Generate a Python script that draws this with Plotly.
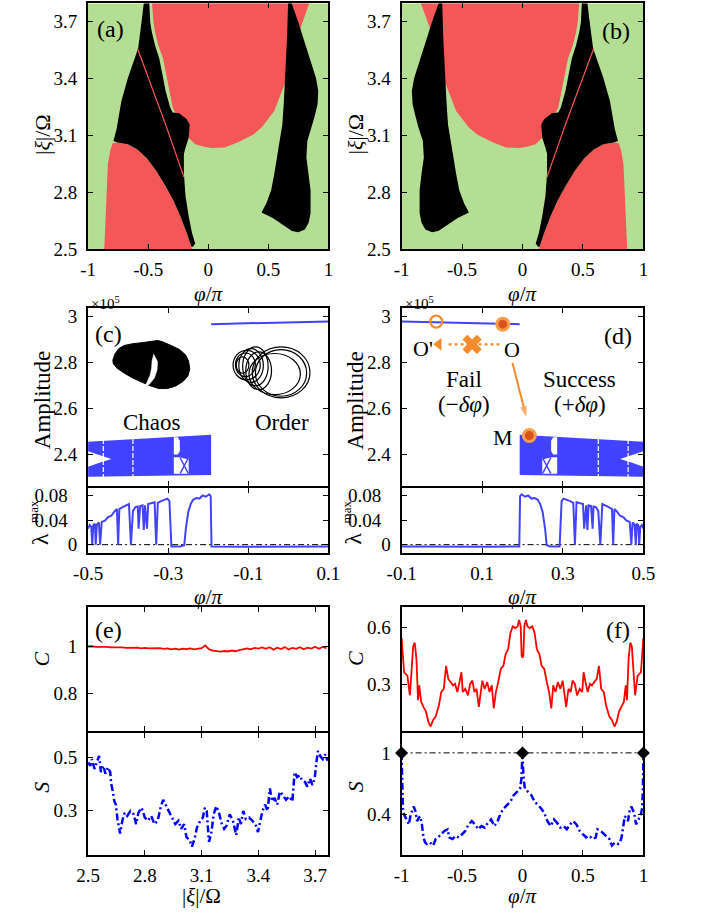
import plotly.graph_objects as go

FONT = "Liberation Serif"
GREEN = "#b4de94"
RED = "#f35757"
BLUE = "#4343ff"
ORANGE = "#f68b2d"
W, H = 704, 918

# ---------------- (a)/(b): phase map over (phi/pi, |xi|/Omega) ----------------
# outlines for panel (a); panel (b) is its mirror image phi -> -phi
red_top_phi = [-0.469, -0.456, -0.443, -0.416, -0.376, -0.349, -0.323, -0.296, -0.269, -0.235,
               -0.203, -0.163, -0.109, -0.035, 0.024, 0.136, 0.243, 0.376, 0.445, 0.549,
               0.643, 0.696, 0.776, 0.843]
red_top_xi = [3.80, 3.695, 3.643, 3.574, 3.505, 3.419, 3.333, 3.247, 3.212, 3.169,
              3.134, 3.088, 3.053, 3.040, 3.034, 3.036, 3.062, 3.105, 3.143, 3.229,
              3.384, 3.540, 3.678, 3.80]
red_low_phi = [-0.795, -0.755, -0.669, -0.589, -0.509, -0.429, -0.355, -0.288, -0.235, -0.181,
               -0.141, -0.125, -0.867, -0.856, -0.848, -0.835, -0.816]
red_low_xi = [3.060, 3.062, 3.053, 3.026, 2.979, 2.910, 2.833, 2.755, 2.678, 2.591,
              2.514, 2.48, 2.48, 2.640, 2.812, 2.950, 3.019]
chaos_left_phi = [-0.536, -0.491, -0.483, -0.469, -0.443, -0.408, -0.381, -0.355, -0.317, -0.296,
                  -0.243, -0.216, -0.181, -0.155, -0.163, -0.189, -0.203, -0.203, -0.189, -0.163,
                  -0.136, -0.109, -0.128, -0.141, -0.181, -0.235, -0.288, -0.355, -0.429, -0.509,
                  -0.589, -0.669, -0.755, -0.789, -0.763, -0.723, -0.669, -0.584, -0.576, -0.563,
                  -0.549]
chaos_left_xi = [3.80, 3.80, 3.695, 3.643, 3.574, 3.505, 3.419, 3.333, 3.247, 3.221,
                 3.217, 3.203, 3.186, 3.157, 3.088, 3.036, 3.002, 2.898, 2.778, 2.674,
                 2.588, 2.531, 2.514, 2.514, 2.591, 2.678, 2.755, 2.833, 2.910, 2.979,
                 3.026, 3.053, 3.062, 3.071, 3.134, 3.281, 3.402, 3.557, 3.609, 3.660,
                 3.729]
chaos_right_phi = [0.664, 0.691, 0.749, 0.803, 0.856, 0.896, 0.915, 0.909, 0.883, 0.861,
                   0.824, 0.816, 0.835, 0.851, 0.851, 0.835, 0.803, 0.749, 0.696, 0.616,
                   0.536, 0.443, 0.483, 0.523, 0.549, 0.589, 0.616, 0.629, 0.643, 0.656]
chaos_right_xi = [3.80, 3.80, 3.695, 3.591, 3.488, 3.402, 3.333, 3.264, 3.195, 3.143,
                  3.071, 2.984, 2.898, 2.812, 2.691, 2.640, 2.605, 2.591, 2.597, 2.631,
                  2.666, 2.695, 2.743, 2.812, 2.898, 3.053, 3.157, 3.281, 3.453, 3.626]
red_thread_phi = [-0.589, -0.355, -0.203]
red_thread_xi = [3.557, 3.157, 2.881]

phi_ticks = [-1, -0.5, 0, 0.5, 1]
phi_ticklabels = ["-1", "-0.5", "0", "0.5", "1"]
xi_ticks = [2.5, 2.8, 3.1, 3.4, 3.7]
xi_ticklabels = ["2.5", "2.8", "3.1", "3.4", "3.7"]

# ---------------- (c)/(d): bifurcation diagram (amplitude in 1e5) and lambda_max ----------------
# values for panel (c); panel (d) is the mirror image phi -> -phi
band_phi = [-0.5, -0.193]
band_top = [2.456, 2.486]
band_bot = [2.303, 2.311]
fixed_phi = [-0.193, 0.1]
fixed_amp = [2.968, 2.980]
notch_phi = [-0.5, -0.47, -0.442, -0.47, -0.5]
notch_amp = [2.414, 2.397, 2.381, 2.365, 2.347]
gap_phi = [-0.462, -0.388]
window_hi_phi = [-0.286, -0.276, -0.271, -0.271, -0.276, -0.286]
window_hi_amp = [2.475, 2.475, 2.46, 2.415, 2.40, 2.40]
window_lo_phi = [-0.286, -0.249, -0.249, -0.286]
window_lo_amp = [2.388, 2.388, 2.316, 2.316]
window_mid_phi = [-0.280, -0.249, -0.249]
window_mid_amp = [2.392, 2.402, 2.378]
window_cross_phi = [[-0.270, -0.250], [-0.270, -0.250]]
window_cross_amp = [[2.385, 2.318], [2.318, 2.385]]

lam_phi = [-0.5, -0.496, -0.492, -0.4896, -0.487, -0.483, -0.481, -0.478, -0.473, -0.470,
           -0.466, -0.458, -0.450, -0.442, -0.434, -0.428, -0.425, -0.422, -0.414, -0.406,
           -0.398, -0.393, -0.388, -0.382, -0.376, -0.374, -0.370, -0.364, -0.361, -0.358,
           -0.353, -0.350, -0.342, -0.334, -0.330, -0.326, -0.318, -0.310, -0.302, -0.297,
           -0.292, -0.282, -0.270, -0.260, -0.256, -0.250, -0.244, -0.238, -0.230, -0.222,
           -0.214, -0.206, -0.198, -0.194, -0.192, -0.122, -0.042, 0.038, 0.1]
lam_val = [0.026, 0.032, 0.029, 0.0, 0.032, 0.034, 0.0, 0.033, 0.036, 0.0,
           0.037, 0.039, 0.045, 0.047, 0.054, 0.058, 0.0, 0.058, 0.061, 0.063,
           0.066, 0.0, 0.055, 0.061, 0.062, 0.026, 0.063, 0.064, 0.024, 0.064,
           0.026, 0.066, 0.067, 0.069, 0.0, 0.068, 0.071, 0.073, 0.075, 0.071,
           -0.003, -0.003, -0.003, -0.001, 0.026, 0.053, 0.066, 0.073, 0.076, 0.075,
           0.080, 0.078, 0.082, 0.079, -0.003, -0.0035, -0.003, -0.0035, -0.003]

amp_ticks = [2.4, 2.6, 2.8, 3.0]
amp_ticklabels = ["2.4", "2.6", "2.8", "3"]
lam_ticks = [0, 0.04, 0.08]
lam_ticklabels = ["0", "0.04\u2002", "0.08\u2002"]
c_phi_ticks = [-0.5, -0.3, -0.1, 0.1]
c_phi_ticklabels = ["-0.5", "-0.3", "-0.1", "0.1"]
d_phi_ticks = [-0.1, 0.1, 0.3, 0.5]
d_phi_ticklabels = ["-0.1", "0.1", "0.3", "0.5"]

# control points in panel (d): start O, failed target O', reached state M
pt_O = (0.151, 2.968)
pt_Oprime = (-0.014, 2.979)
pt_M = (0.217, 2.483)

# ---------------- (e): C and S versus |xi|/Omega ----------------
e_C_xi = [2.50, 2.52, 2.54, 2.56, 2.58, 2.60, 2.62, 2.64, 2.66, 2.68, 2.70, 2.72, 2.74, 2.76, 2.78, 2.80,
          2.82, 2.84, 2.86, 2.88, 2.90, 2.92, 2.94, 2.96, 2.98, 3.00, 3.02, 3.04, 3.06, 3.08, 3.10, 3.12,
          3.14, 3.16, 3.18, 3.20, 3.22, 3.24, 3.26, 3.28, 3.30, 3.32, 3.34, 3.36, 3.38, 3.40, 3.42, 3.44,
          3.46, 3.48, 3.50, 3.52, 3.54, 3.56, 3.58, 3.60, 3.62, 3.64, 3.66, 3.68, 3.70, 3.72, 3.74, 3.76]
e_C = [0.998, 0.999, 0.996, 0.997, 0.995, 0.996, 0.994, 0.995, 0.993, 0.994, 0.992, 0.993, 0.991, 0.993, 0.990, 0.992,
       0.990, 0.991, 0.989, 0.991, 0.988, 0.990, 0.986, 0.989, 0.985, 0.989, 0.987, 0.990, 0.986, 0.989, 0.991, 1.002,
       0.986, 0.981, 0.979, 0.976, 0.979, 0.977, 0.981, 0.978, 0.983, 0.987, 0.990, 0.986, 0.992, 0.989, 0.994, 0.988,
       0.995, 0.984, 0.993, 0.987, 0.996, 0.985, 0.992, 0.988, 0.995, 0.986, 0.993, 0.989, 0.997, 0.988, 0.996, 0.991]
e_S_xi = [2.5, 2.512, 2.520, 2.534, 2.546, 2.558, 2.568, 2.580, 2.592, 2.605,
          2.617, 2.622, 2.631, 2.639, 2.647, 2.656, 2.664, 2.669, 2.681, 2.693,
          2.707, 2.724, 2.741, 2.754, 2.766, 2.783, 2.800, 2.817, 2.834, 2.851,
          2.868, 2.885, 2.897, 2.910, 2.927, 2.944, 2.961, 2.978, 2.992, 3.008,
          3.020, 3.037, 3.049, 3.063, 3.076, 3.093, 3.107, 3.117, 3.127, 3.139,
          3.151, 3.164, 3.178, 3.192, 3.207, 3.219, 3.232, 3.249, 3.266, 3.283,
          3.297, 3.308, 3.320, 3.334, 3.351, 3.368, 3.385, 3.398, 3.410, 3.422,
          3.436, 3.449, 3.461, 3.473, 3.486, 3.500, 3.514, 3.529, 3.546, 3.563,
          3.580, 3.592, 3.605, 3.619, 3.631, 3.647, 3.659, 3.673, 3.686, 3.698,
          3.707, 3.715, 3.727, 3.741, 3.754, 3.766]
e_S = [0.482, 0.469, 0.494, 0.457, 0.482, 0.506, 0.445, 0.469, 0.439, 0.463,
       0.445, 0.402, 0.371, 0.334, 0.322, 0.261, 0.236, 0.212, 0.261, 0.291,
       0.279, 0.298, 0.285, 0.248, 0.291, 0.310, 0.273, 0.261, 0.279, 0.248,
       0.261, 0.316, 0.340, 0.322, 0.298, 0.273, 0.248, 0.261, 0.230, 0.248,
       0.199, 0.187, 0.163, 0.193, 0.236, 0.261, 0.273, 0.310, 0.298, 0.181,
       0.212, 0.285, 0.316, 0.291, 0.248, 0.230, 0.242, 0.285, 0.261, 0.206,
       0.273, 0.248, 0.298, 0.267, 0.273, 0.261, 0.248, 0.218, 0.261, 0.298,
       0.322, 0.298, 0.383, 0.334, 0.347, 0.322, 0.371, 0.359, 0.340, 0.353,
       0.334, 0.445, 0.426, 0.433, 0.414, 0.408, 0.390, 0.420, 0.396, 0.420,
       0.482, 0.525, 0.506, 0.494, 0.512, 0.488]

# ---------------- (f): C and S versus phi/pi (symmetric about phi = 0) ----------------
f_C_phi_half = [-1.0, -0.979, -0.952, -0.931, -0.904, -0.891, -0.877, -0.864, -0.854, -0.838,
                -0.819, -0.798, -0.779, -0.760, -0.739, -0.718, -0.691, -0.672, -0.651, -0.632,
                -0.614, -0.593, -0.574, -0.558, -0.539, -0.521, -0.505, -0.494, -0.473, -0.451,
                -0.433, -0.414, -0.398, -0.380, -0.361, -0.345, -0.332, -0.313, -0.292, -0.273,
                -0.254, -0.238, -0.220, -0.201, -0.180, -0.158, -0.140, -0.119, -0.100, -0.081,
                -0.060, -0.041, -0.028, -0.015, -0.007, 0.0]
f_C_half = [0.547, 0.366, 0.348, 0.245, 0.503, 0.521, 0.434, 0.219, 0.297, 0.210,
            0.184, 0.159, 0.107, 0.081, 0.116, 0.133, 0.193, 0.262, 0.279, 0.400,
            0.331, 0.314, 0.297, 0.305, 0.262, 0.314, 0.366, 0.262, 0.279, 0.245,
            0.305, 0.322, 0.262, 0.279, 0.184, 0.262, 0.322, 0.279, 0.314, 0.262,
            0.297, 0.176, 0.262, 0.314, 0.383, 0.400, 0.460, 0.486, 0.572, 0.607,
            0.598, 0.607, 0.641, 0.607, 0.452, 0.443]
f_S_phi_half = [-1.0, -0.995, -0.989, -0.979, -0.965, -0.952, -0.939, -0.925, -0.912, -0.899,
                -0.885, -0.872, -0.859, -0.846, -0.832, -0.819, -0.806, -0.792, -0.766, -0.739,
                -0.718, -0.699, -0.672, -0.646, -0.619, -0.606, -0.579, -0.553, -0.526, -0.499,
                -0.473, -0.446, -0.419, -0.393, -0.366, -0.340, -0.313, -0.286, -0.260, -0.233,
                -0.206, -0.180, -0.153, -0.127, -0.100, -0.073, -0.047, -0.033, -0.020, -0.009,
                -0.004, 0.0]
f_S_half = [1.0, 0.617, 0.457, 0.394, 0.362, 0.330, 0.298, 0.394, 0.441, 0.473,
            0.425, 0.330, 0.362, 0.378, 0.298, 0.170, 0.122, 0.106, 0.122, 0.090,
            0.154, 0.170, 0.202, 0.234, 0.250, 0.170, 0.154, 0.186, 0.170, 0.202,
            0.234, 0.298, 0.330, 0.298, 0.250, 0.282, 0.266, 0.314, 0.346, 0.282,
            0.330, 0.410, 0.457, 0.489, 0.521, 0.585, 0.617, 0.633, 0.649, 0.745,
            0.872, 1.0]
s_max_phi = [-1, 0, 1]
s_max_val = [1, 1, 1]


def mirror(phi_half, vals_half):
    """Extend a left half (ending at phi = 0) to the full symmetric curve."""
    phi = list(phi_half) + [-p for p in reversed(phi_half[:-1])]
    vals = list(vals_half) + list(reversed(vals_half[:-1]))
    return phi, vals


f_C_phi, f_C = mirror(f_C_phi_half, f_C_half)
f_S_phi, f_S = mirror(f_S_phi_half, f_S_half)

fig = go.Figure()


def add(trace, n):
    sfx = "" if n == 1 else str(n)
    trace.update(xaxis="x" + sfx, yaxis="y" + sfx, showlegend=False, hoverinfo="skip")
    fig.add_trace(trace)


def poly(xs, ys, color, n):
    add(go.Scatter(x=list(xs) + [xs[0]], y=list(ys) + [ys[0]], mode="lines", fill="toself",
                   fillcolor=color, line=dict(width=0)), n)


# (a) and (b)
for n, s in ((1, 1), (2, -1)):
    m = lambda v: [s * p for p in v]
    poly(m(red_top_phi), red_top_xi, RED, n)
    poly(m(red_low_phi), red_low_xi, RED, n)
    poly(m(chaos_left_phi), chaos_left_xi, "black", n)
    poly(m(chaos_right_phi), chaos_right_xi, "black", n)
    add(go.Scatter(x=m(red_thread_phi), y=red_thread_xi, mode="lines",
                   line=dict(color=RED, width=1.2)), n)

# (c) and (d)
for na, nl, s in ((3, 4, 1), (5, 6, -1)):
    m = lambda v: [s * p for p in v]
    poly(m([band_phi[0], band_phi[1], band_phi[1], band_phi[0]]),
         [band_top[0], band_top[1], band_bot[1], band_bot[0]], BLUE, na)
    poly(m(notch_phi), notch_amp, "white", na)
    poly(m(window_hi_phi), window_hi_amp, "white", na)
    poly(m(window_lo_phi), window_lo_amp, "white", na)
    poly(m(window_mid_phi), window_mid_amp, BLUE, na)
    for cx, cy in zip(window_cross_phi, window_cross_amp):
        add(go.Scatter(x=m(cx), y=cy, mode="lines", line=dict(color=BLUE, width=1.5)), na)
    for g in gap_phi:
        add(go.Scatter(x=[s * g, s * g], y=[band_bot[0] - 0.01, band_top[1]], mode="lines",
                       line=dict(color="white", width=1.2, dash="5px,2px")), na)
    add(go.Scatter(x=m(fixed_phi), y=fixed_amp, mode="lines", line=dict(color=BLUE, width=2)), na)
    zero_x = [-0.5, 0.1] if s == 1 else [-0.1, 0.5]
    add(go.Scatter(x=zero_x, y=[0, 0], mode="lines",
                   line=dict(color="black", width=1, dash="6px,3px,2px,3px")), nl)
    add(go.Scatter(x=m(lam_phi), y=lam_val, mode="lines", line=dict(color=BLUE, width=2)), nl)

# (d) control paths: failed shift O -> O' (dotted, crossed out) and successful O -> M
add(go.Scatter(x=[0.143, 0.010], y=[2.88, 2.88], mode="lines",
               line=dict(color=ORANGE, width=2.2, dash="dot")), 5)
add(go.Scatter(x=[-0.008], y=[2.88], mode="markers",
               marker=dict(symbol="triangle-left", size=11, color=ORANGE)), 5)
add(go.Scatter(x=[0.075], y=[2.88], mode="markers",
               marker=dict(symbol="x", size=17, color=ORANGE, line=dict(width=0))), 5)
add(go.Scatter(x=[0.175, 0.209], y=[2.80, 2.565], mode="lines+markers",
               line=dict(color=ORANGE, width=2),
               marker=dict(symbol="arrow", size=[0, 11], angleref="previous", color=ORANGE,
                           line=dict(width=0))), 5)
add(go.Scatter(x=[pt_Oprime[0]], y=[pt_Oprime[1]], mode="markers",
               marker=dict(symbol="circle-open", size=12, color=ORANGE, line=dict(width=2.2))), 5)
add(go.Scatter(x=[pt_O[0], pt_M[0]], y=[pt_O[1], pt_M[1]], mode="markers",
               marker=dict(symbol="circle", size=12, color="#d9541c",
                           line=dict(width=3, color="#f7a04c"))), 5)

# (e)
add(go.Scatter(x=e_C_xi, y=e_C, mode="lines", line=dict(color="#ff0000", width=1.8)), 7)
add(go.Scatter(x=e_S_xi, y=e_S, mode="lines",
               line=dict(color="#0000ff", width=2.5, dash="7px,3px,2px,3px")), 8)

# (f)
add(go.Scatter(x=f_C_phi, y=f_C, mode="lines", line=dict(color="#ff0000", width=1.8)), 9)
add(go.Scatter(x=[-1, 1], y=[1, 1], mode="lines",
               line=dict(color="black", width=1, dash="6px,3px,2px,3px")), 10)
add(go.Scatter(x=f_S_phi, y=f_S, mode="lines",
               line=dict(color="#0000ff", width=2.5, dash="7px,3px,2px,3px")), 10)
add(go.Scatter(x=s_max_phi, y=s_max_val, mode="markers", cliponaxis=False,
               marker=dict(symbol="diamond", size=10, color="black")), 10)


def axis(domain, rng, tickvals, ticktext, anchor, labels=True, standoff=5):
    return dict(domain=domain, range=rng, anchor=anchor, showline=True, linecolor="black",
                linewidth=2, mirror="ticks", ticks="inside", ticklen=5, tickwidth=1.3,
                tickcolor="black", showgrid=False, zeroline=False, tickvals=tickvals,
                ticktext=ticktext, showticklabels=labels, ticklabelstandoff=standoff,
                tickfont=dict(family=FONT, size=19, color="black"), fixedrange=True)


def xaxis(domain, rng, tickvals, ticktext, anchor, labels=True):
    return axis(domain, rng, tickvals, ticktext, anchor, labels, standoff=2)


def px_x(p):
    return p / W


def px_y(p):
    return 1 - p / H


LW = 2  # frame width; stacked panels overlap by it so shared borders coincide
XL = [px_x(76), px_x(326)]
XR = [px_x(402), px_x(653.5)]
Y_TOP = [px_y(251), px_y(1.5)]
Y_AMP = [px_y(490.5), px_y(310)]
Y_LAM = [px_y(559.3), px_y(490.5 + LW)]
Y_C = [px_y(739), px_y(614)]
Y_S = [px_y(865), px_y(739 + LW)]

layout = dict(width=W, height=H, margin=dict(l=0, r=0, t=0, b=0),
              paper_bgcolor="white", plot_bgcolor="white", showlegend=False,
              font=dict(family=FONT, color="black"))

layout["xaxis"] = xaxis(XL, [-1, 1], phi_ticks, phi_ticklabels, "y")
layout["yaxis"] = axis(Y_TOP, [2.5, 3.794], xi_ticks, xi_ticklabels, "x")
layout["xaxis2"] = xaxis(XR, [-1, 1], phi_ticks, phi_ticklabels, "y2")
layout["yaxis2"] = axis(Y_TOP, [2.5, 3.794], xi_ticks, xi_ticklabels, "x2")

layout["xaxis3"] = xaxis(XL, [-0.5, 0.1], c_phi_ticks, c_phi_ticklabels, "y3", labels=False)
layout["yaxis3"] = axis(Y_AMP, [2.265, 3.04], amp_ticks, amp_ticklabels, "x3")
layout["xaxis4"] = xaxis(XL, [-0.5, 0.1], c_phi_ticks, c_phi_ticklabels, "y4")
layout["yaxis4"] = axis(Y_LAM, [-0.0142, 0.093], lam_ticks, lam_ticklabels, "x4")
layout["xaxis5"] = xaxis(XR, [-0.1, 0.5], d_phi_ticks, d_phi_ticklabels, "y5", labels=False)
layout["yaxis5"] = axis(Y_AMP, [2.265, 3.04], amp_ticks, amp_ticklabels, "x5")
layout["xaxis6"] = xaxis(XR, [-0.1, 0.5], d_phi_ticks, d_phi_ticklabels, "y6")
layout["yaxis6"] = axis(Y_LAM, [-0.0142, 0.093], lam_ticks, lam_ticklabels, "x6")

layout["xaxis7"] = xaxis(XL, [2.5, 3.771], xi_ticks, xi_ticklabels, "y7", labels=False)
layout["yaxis7"] = axis(Y_C, [0.644, 1.163], [0.8, 1.0], ["0.8", "1"], "x7")
layout["xaxis8"] = xaxis(XL, [2.5, 3.771], xi_ticks, xi_ticklabels, "y8")
layout["yaxis8"] = axis(Y_S, [0.132, 0.595], [0.3, 0.5], ["0.3", "0.5"], "x8")
layout["xaxis9"] = xaxis(XR, [-1, 1], phi_ticks, phi_ticklabels, "y9", labels=False)
layout["yaxis9"] = axis(Y_C, [0.06, 0.707], [0.3, 0.6], ["0.3", "0.6"], "x9")
layout["xaxis10"] = xaxis(XR, [-1, 1], phi_ticks, phi_ticklabels, "y10")
layout["yaxis10"] = axis(Y_S, [0.0, 1.2], [0.4, 1.0], ["0.4", "1"], "x10")

shapes = []
# green background of the phase maps
for n in ("", "2"):
    shapes.append(dict(type="rect", xref="x%s domain" % n, yref="y%s domain" % n,
                       x0=0, x1=1, y0=0, y1=1, fillcolor=GREEN, line=dict(width=0), layer="below"))

# inset sketches in panel (c): chaotic attractor (filled) and ordered orbit (loops)
blob = [(0.103, 0.705), (0.112, 0.740), (0.128, 0.770), (0.150, 0.787), (0.185, 0.797),
        (0.225, 0.803), (0.262, 0.810), (0.290, 0.815), (0.310, 0.808), (0.345, 0.787),
        (0.380, 0.765), (0.405, 0.735), (0.418, 0.700), (0.423, 0.655), (0.415, 0.615),
        (0.395, 0.585), (0.365, 0.560), (0.330, 0.545), (0.295, 0.545), (0.260, 0.560),
        (0.225, 0.580), (0.185, 0.605), (0.150, 0.632), (0.120, 0.660), (0.105, 0.685)]
crescent = [(0.273, 0.738), (0.289, 0.696), (0.287, 0.650), (0.276, 0.605), (0.255, 0.570),
            (0.232, 0.548), (0.245, 0.580), (0.258, 0.620), (0.264, 0.660), (0.266, 0.700)]


def path(pts):
    return "M " + " L ".join("%.3f,%.3f" % p for p in pts) + " Z"


shapes.append(dict(type="path", xref="x3 domain", yref="y3 domain", path=path(blob),
                   fillcolor="black", line=dict(color="black", width=1)))
shapes.append(dict(type="path", xref="x3 domain", yref="y3 domain", path=path(crescent),
                   fillcolor="white", line=dict(color="white", width=0.5)))
loops = [(0.683, 0.923, 0.493, 0.779), (0.696, 0.909, 0.502, 0.764), (0.669, 0.883, 0.511, 0.742),
         (0.603, 0.716, 0.594, 0.760), (0.613, 0.696, 0.613, 0.745), (0.627, 0.729, 0.580, 0.769),
         (0.643, 0.749, 0.561, 0.779), (0.656, 0.763, 0.539, 0.751), (0.616, 0.669, 0.631, 0.723)]
for x0, x1, y0, y1 in loops:
    shapes.append(dict(type="circle", xref="x3 domain", yref="y3 domain",
                       x0=x0, x1=x1, y0=y0, y1=y1, line=dict(color="black", width=1.2)))
layout["shapes"] = shapes

ann = []
NUDGE = 4  # annotation boxes sit a little high; push paper-placed text down


def text(t, x, y, size=22, angle=0, xanchor="center", xref="paper", yref="paper"):
    ann.append(dict(text=t, x=x, y=y, xref=xref, yref=yref, showarrow=False, textangle=angle,
                    xanchor=xanchor, yanchor="middle", font=dict(family=FONT, size=size, color="black")))


def ptext(t, px, py, **kw):
    text(t, px_x(px), px_y(py + NUDGE), **kw)


XI_LABEL = "|<i>ξ</i>|/Ω"
PHI_LABEL = "<i>φ</i>/<i>π</i>"
for dx in (0, 326):
    ptext(XI_LABEL, 28 + dx, 130, angle=-90)
    ptext(PHI_LABEL, 201 + dx, 292, size=21)
    ptext("Amplitude", 28 + dx, 400, size=23, angle=-90)
    ptext("λ", 26 + dx, 541, size=24, angle=-90)
    ptext("max", 19 + dx, 513, size=13, angle=-90)
    ptext(PHI_LABEL, 201 + dx, 600, size=21)
    ptext("×10<sup>5</sup>", 77 + dx, 301, size=15, xanchor="left")
    ptext("<i>C</i>", 28 + dx, 662, angle=-90)
    ptext("<i>S</i>", 28 + dx, 792, angle=-90)
ptext(XI_LABEL, 194, 903, size=21)
ptext(PHI_LABEL, 527, 903, size=21)

for lab, x, y in (("(a)", 99, 23), ("(b)", 625, 25), ("(c)", 97, 333), ("(d)", 627, 335),
                  ("(e)", 97, 633), ("(f)", 627, 633)):
    ptext(lab, x, y, size=24)

ptext("Chaos", 142, 423, size=23)
ptext("Order", 278, 423, size=23)

# labels in panel (d)
text("O'", -0.048, 2.862, size=22, xref="x5", yref="y5")
text("O", 0.173, 2.858, size=22, xref="x5", yref="y5")
text("M", 0.152, 2.476, size=22, xref="x5", yref="y5")
text("Fail", 0.055, 2.726, size=23, xref="x5", yref="y5")
text("(−<i>δφ</i>)", 0.055, 2.619, size=23, xref="x5", yref="y5")
text("Success", 0.342, 2.726, size=23, xref="x5", yref="y5")
text("(+<i>δφ</i>)", 0.342, 2.619, size=23, xref="x5", yref="y5")
layout["annotations"] = ann

fig.update_layout(**layout)
fig.write_html("out.html")
